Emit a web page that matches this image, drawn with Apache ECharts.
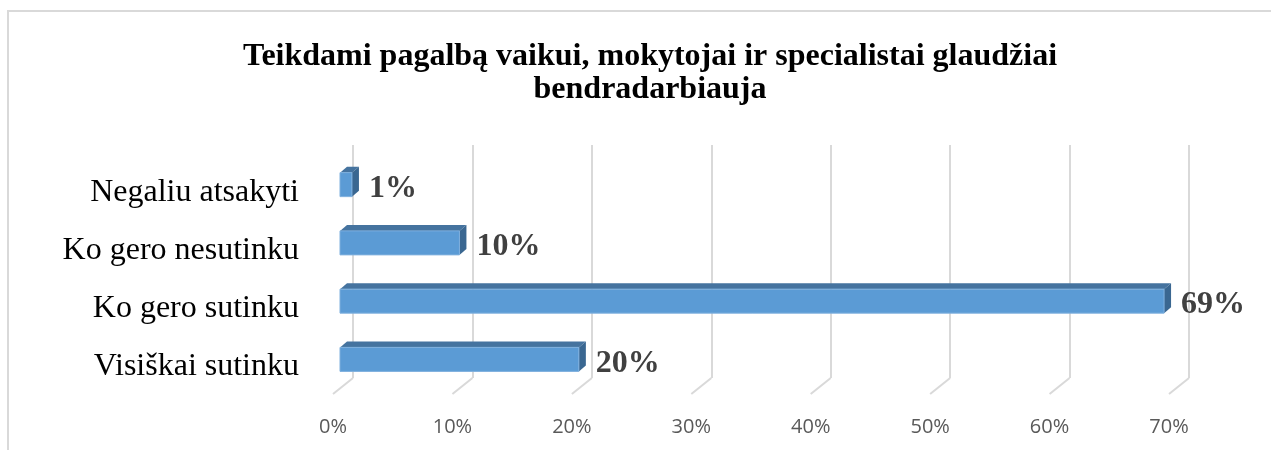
<!DOCTYPE html>
<html>
<head>
<meta charset="utf-8">
<script src="https://cdn.jsdelivr.net/npm/echarts@6/dist/echarts.min.js"></script>
<style>
  html, body { margin: 0; padding: 0; background: #fff; }
  #chart { width: 1271px; height: 450px; }
</style>
</head>
<body>
<div id="chart"></div>
<script>
// categories top to bottom
const categories = ['Negaliu atsakyti', 'Ko gero nesutinku', 'Ko gero sutinku', 'Visiškai sutinku']
const values = [0.01, 0.10, 0.69, 0.20]
const valueLabels = ['1%', '10%', '69%', '20%']
const ticks = [0, 0.1, 0.2, 0.3, 0.4, 0.5, 0.6, 0.7]
const tickLabels = ['0%', '10%', '20%', '30%', '40%', '50%', '60%', '70%']

const serif = '"Liberation Serif", "Times New Roman", serif'

// 3d look: front face offset from back wall, depth of bar
const FRONT_DX = -13, FRONT_DY = 10.5
const BAR_H = 24, DEPTH_X = 7, DEPTH_Y = -6

function renderBar(params, api) {
  const cat = api.value(1)
  const start = api.coord([0, cat])
  const end = api.coord([api.value(0), cat])
  const x0 = start[0] + FRONT_DX
  const x1 = end[0] + FRONT_DX
  const yc = start[1] + FRONT_DY
  const yt = yc - BAR_H / 2
  const yb = yc + BAR_H / 2
  return {
    type: 'group',
    children: [
      {
        type: 'polygon',
        shape: { points: [[x0, yt], [x0 + DEPTH_X, yt + DEPTH_Y], [x1 + DEPTH_X, yt + DEPTH_Y], [x1, yt]] },
        style: { fill: '#45739f' }
      },
      {
        type: 'polygon',
        shape: { points: [[x1, yt], [x1 + DEPTH_X, yt + DEPTH_Y], [x1 + DEPTH_X, yb + DEPTH_Y], [x1, yb]] },
        style: { fill: '#3a6791' }
      },
      {
        type: 'rect',
        shape: { x: x0, y: yt, width: x1 - x0, height: BAR_H },
        style: { fill: '#5b9bd5', stroke: '#7fb0de', lineWidth: 1 }
      },
      {
        type: 'text',
        style: {
          text: valueLabels[params.dataIndex],
          x: x1 + 17,
          y: yc + 4,
          font: 'bold 32px ' + serif,
          fill: '#404040',
          verticalAlign: 'middle'
        }
      }
    ]
  }
}

function renderFloor(params, api) {
  const p = api.coord([api.value(0), 0])
  const bottom = params.coordSys.y + params.coordSys.height
  return {
    type: 'line',
    shape: { x1: p[0], y1: bottom, x2: p[0] - 20, y2: bottom + 16 },
    style: { stroke: '#d9d9d9', lineWidth: 2 }
  }
}

const option = {
  animation: false,
  title: {
    text: 'Teikdami pagalbą vaikui, mokytojai ir specialistai glaudžiai\nbendradarbiauja',
    left: 645,
    top: 35,
    textAlign: 'center',
    textStyle: {
      fontFamily: serif,
      fontSize: 32,
      fontWeight: 'bold',
      color: '#000',
      lineHeight: 33
    }
  },
  graphic: [
    {
      type: 'rect',
      shape: { x: 8, y: 11, width: 1300, height: 500 },
      style: { fill: 'none', stroke: '#d9d9d9', lineWidth: 2 },
      silent: true
    }
  ],
  grid: {
    left: 353,
    right: 82,
    top: 145,
    bottom: 72
  },
  xAxis: {
    type: 'value',
    min: 0,
    max: 0.7,
    interval: 0.1,
    axisLine: { show: false },
    axisTick: { show: false },
    splitLine: { show: true, lineStyle: { color: '#d9d9d9', width: 2 } },
    axisLabel: {
      margin: 39,
      padding: [0, 40, 0, 0],
      fontFamily: '"Open Sans", sans-serif',
      fontSize: 20,
      color: '#595959',
      formatter: (v) => tickLabels[Math.round(v * 10)]
    }
  },
  yAxis: {
    type: 'category',
    inverse: true,
    data: categories,
    axisLine: { show: false },
    axisTick: { show: false },
    splitLine: { show: false },
    axisLabel: {
      margin: 54,
      verticalAlign: 'top',
      lineHeight: 32,
      padding: [2, 0, 0, 0],
      fontFamily: serif,
      fontSize: 32,
      color: '#000'
    }
  },
  series: [
    {
      type: 'custom',
      renderItem: renderFloor,
      encode: { x: 0, y: 1 },
      data: ticks.map((t) => [t, 0]),
      silent: true,
      z: 1
    },
    {
      type: 'custom',
      renderItem: renderBar,
      encode: { x: 0, y: 1 },
      data: values.map((v, i) => [v, i]),
      z: 3
    }
  ]
}

const myChart = echarts.init(document.getElementById('chart'))
myChart.setOption(option)
</script>
</body>
</html>
